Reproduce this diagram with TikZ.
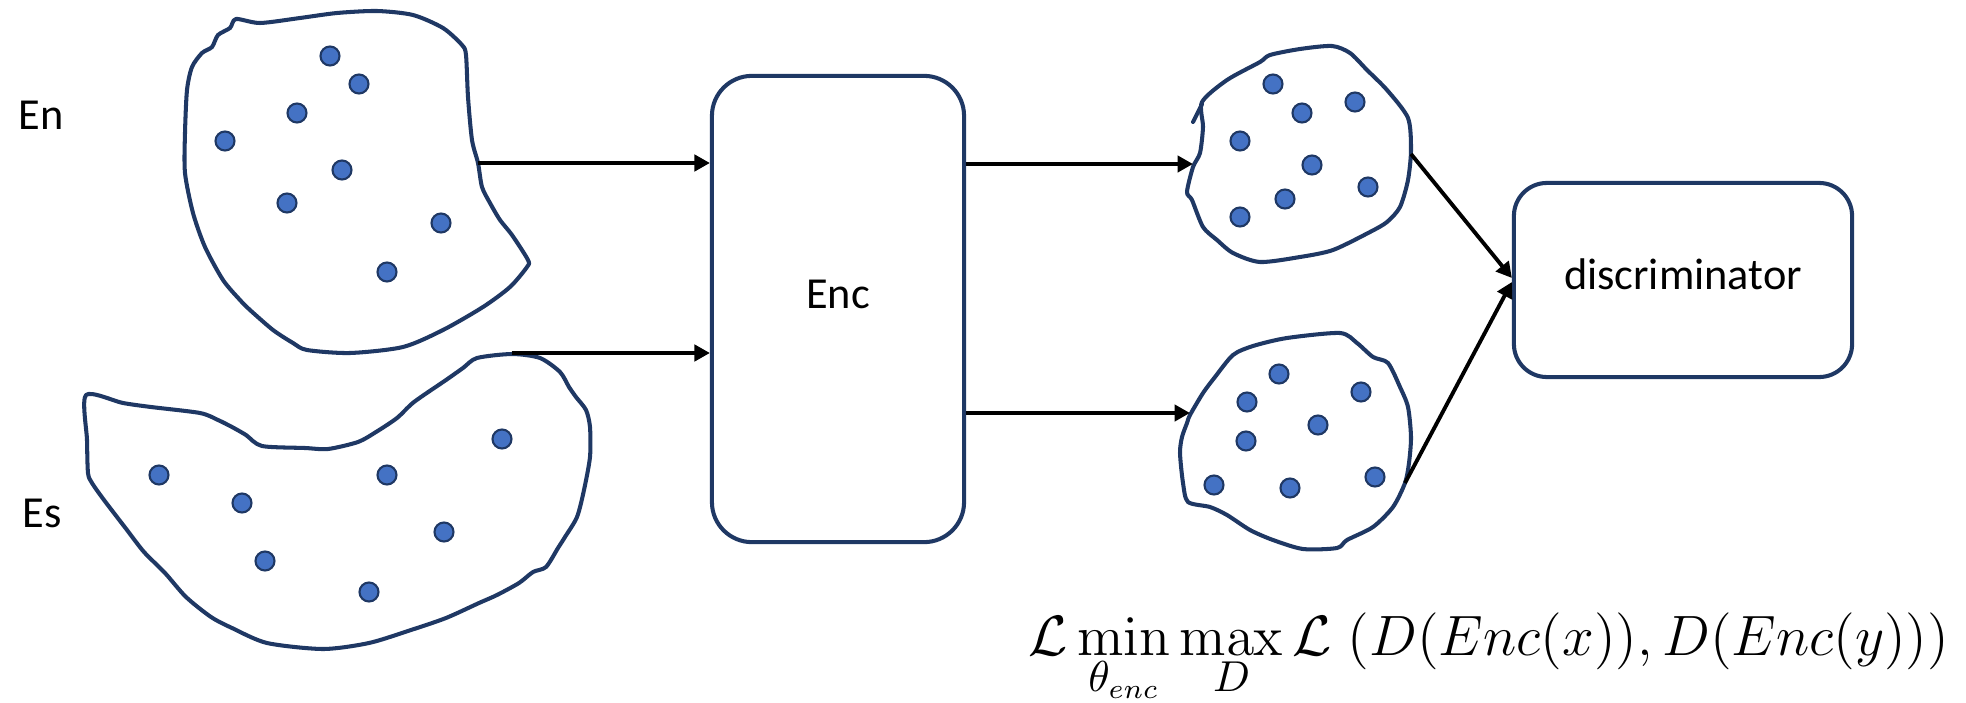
\documentclass[tikz,border=0pt]{standalone}
\usepackage[no-math]{fontspec}
\usepackage{graphicx}
\setmainfont{Carlito}
\usetikzlibrary{arrows.meta}
\definecolor{navy}{HTML}{1F3864}
\definecolor{dotblue}{HTML}{4472C4}
\newcommand{\lblfont}{\fontsize{12.6pt}{15pt}\selectfont}
\tikzset{
  blob/.style={draw=navy, line width=1.15pt, line join=round, fill=white},
  dot/.style={circle, draw=navy, fill=dotblue, line width=0.6pt,
              minimum size=0.19cm, inner sep=0pt},
  box/.style={draw=navy, line width=1.15pt, rounded corners=0.4cm, fill=white,
              inner sep=0pt},
  arr/.style={draw=black, line width=1.1pt,
              -{Triangle[length=4.4pt,width=4.6pt]}},
  lbl/.style={font=\lblfont, text=black, inner sep=0pt}
}
\begin{document}
\begin{tikzpicture}[x=0.01cm,y=-0.01cm]
\useasboundingbox (0,0) rectangle (1966,703);

% source set En
\draw[blob] plot[smooth cycle, tension=0.45] coordinates {
  (236,19) (260,23) (300,18) (337,13) (377,11) (413,15) (443,28) (462,45)
  (466,55) (468,97) (472,140) (478,163) (482,187) (490,203) (500,220)
  (512,235) (528,260) (527,267) (510,287) (483,307) (443,330) (403,347)
  (350,353) (307,350) (293,343) (273,330) (250,310) (240,300) (223,280)
  (205,247) (193,213) (185,173) (185,133) (187,90) (192,67) (202,53)
  (212,47) (218,35) (230,28)};
\foreach \p [count=\i] in {(330,56),(359,84),(297,113),(225,141),(342,170),
                            (287,203),(441,223),(387,272)}
  \node[dot, name=en\i] at \p {};

% source set Es
\draw[blob] plot[smooth cycle, tension=0.45] coordinates {
  (86,395) (123,403) (151,407) (200,413) (218,420) (232,427) (246,435)
  (262,446) (305,448) (328,449) (358,442) (376,432) (397,418) (414,402)
  (446,380) (463,368) (477,358) (512,354) (540,358) (560,372) (569,387)
  (576,397) (586,410) (590,427) (590,457) (584,490) (577,517) (565,537)
  (558,548) (546,567) (533,572) (519,583) (497,595) (479,603) (446,618)
  (411,630) (369,643) (323,649) (267,643) (232,628) (211,617) (186,597)
  (165,573) (144,552) (127,530) (104,500) (92,483) (88,473) (87,440)};
\foreach \p [count=\i] in {(159,475),(242,503),(387,475),(502,439),(444,532),
                            (265,561),(369,592)}
  \node[dot, name=es\i] at \p {};

% encoded set of En
\draw[blob] plot[smooth cycle, tension=0.45] coordinates {
  (1202,102) (1227,80) (1260,62) (1270,55) (1300,49) (1332,46) (1350,53)
  (1367,70) (1387,90) (1408,118) (1411,150) (1408,180) (1400,207)
  (1387,222) (1370,232) (1333,250) (1300,257) (1260,262) (1233,253)
  (1217,240) (1203,227) (1192,200) (1187,192) (1193,167) (1200,153)
  (1203,127)};
\draw[navy, line width=1.15pt, line cap=round] (1202,104) -- (1193,122);
\foreach \p [count=\i] in {(1273,84),(1302,113),(1355,102),(1240,141),
                            (1312,165),(1368,187),(1285,199),(1240,217)}
  \node[dot, name=zn\i] at \p {};

% encoded set of Es
\draw[blob] plot[smooth cycle, tension=0.45] coordinates {
  (1190,415) (1203,393) (1215,377) (1233,355) (1253,346) (1287,338)
  (1340,333) (1357,343) (1373,357) (1388,363) (1400,387) (1408,407)
  (1411,437) (1409,463) (1405,483) (1393,507) (1373,527) (1347,540)
  (1337,548) (1303,549) (1273,540) (1250,530) (1227,515) (1210,507)
  (1188,502) (1183,483) (1180,453) (1182,437) (1187,423)};
\foreach \p [count=\i] in {(1279,374),(1247,402),(1361,392),(1318,425),
                            (1246,441),(1375,477),(1214,485),(1290,488)}
  \node[dot, name=zs\i] at \p {};

% ports on the set outlines
\coordinate (enOut) at (478,163);
\coordinate (esOut) at (512,353);
\coordinate (znIn)  at (1193,164);
\coordinate (zsIn)  at (1190,413);
\coordinate (znOut) at (1411,154);
\coordinate (zsOut) at (1405,483);

% blocks
\node[box, minimum width=2.52cm, minimum height=4.66cm,
      label={[lbl, yshift=0.15cm]center:Enc}] (enc) at (838,309) {};
\node[box, rounded corners=0.33cm, minimum width=3.38cm, minimum height=1.94cm,
      label={[lbl, yshift=0.06cm]center:discriminator}] (disc) at (1683,280) {};

% set labels
\node[lbl, anchor=base west] (enlabel) at (18,129) {En};
\node[lbl, anchor=base west] (eslabel) at (22,527) {Es};

% connectors
\draw[arr] (enOut) -- (enOut -| enc.west);
\draw[arr] (esOut) -- (esOut -| enc.west);
\draw[arr] (znIn -| enc.east) -- (znIn);
\draw[arr] (zsIn -| enc.east) -- (zsIn);
\draw[arr] (znOut) -- ([yshift=0.02cm]disc.west);
\draw[arr] (zsOut) -- ([yshift=-0.02cm]disc.west);

% objective
\node[inner sep=0pt, anchor=base west] (loss) at (1028,655)
  {\fontsize{15pt}{18pt}\selectfont\resizebox{9.2cm}{!}{%
   $\displaystyle \mathcal{L}\min_{\theta_{enc}}\max_{D}\mathcal{L}\;(D(Enc(x)),D(Enc(y)))$}};
\end{tikzpicture}
\end{document}
